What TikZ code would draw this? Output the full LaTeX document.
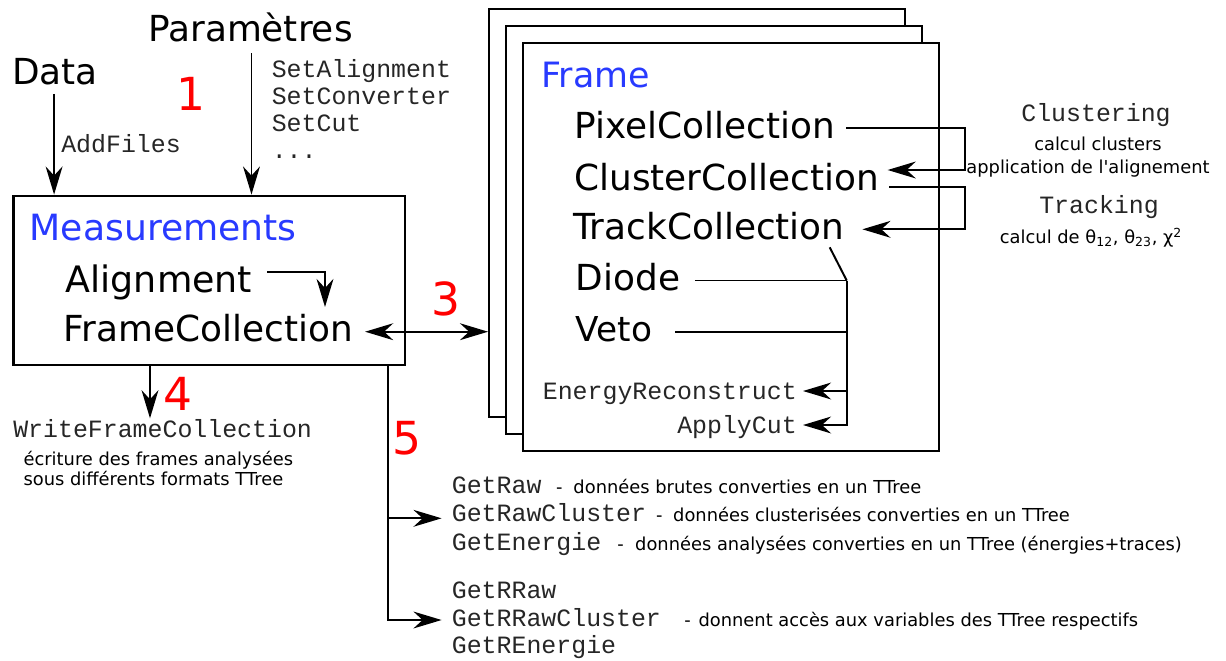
\documentclass[tikz,border=0pt]{standalone}
\usepackage{fontspec}
\setmainfont{DejaVu Sans}
\setmonofont{Liberation Mono}
\usepackage{xcolor}
\usepackage{tikz}
\usetikzlibrary{arrows.meta, positioning, calc}

\definecolor{clsblue}{RGB}{40,58,255}

\begin{document}
\begin{tikzpicture}[
  x=0.25mm, y=-0.25mm,
  box/.style={rectangle, draw, fill=white, line width=1.6pt,
    inner sep=0pt},
  big/.style={font=\fontsize{#1}{#1}\selectfont, inner sep=0pt,
    anchor=base west},
  big/.default=25.5,
  cls/.style={big=#1, text=clsblue},
  cls/.default=25.5,
  meth/.style={font=\ttfamily\fontsize{17.7}{20}\selectfont,
    text=black!85, inner sep=0pt, anchor=base west},
  note/.style={font=\fontsize{12.7}{15}\selectfont, inner sep=0pt,
    anchor=base west},
  num/.style={font=\fontsize{32.4}{34}\selectfont, text=red,
    inner sep=0pt},
  wire/.style={line width=1.4pt},
  arr/.style={-{Stealth[length=20pt, width=12pt, inset=6.5pt]},
    line width=1.4pt},
  dbl/.style={{Stealth[length=20pt, width=12pt, inset=6.5pt]}-{Stealth[length=20pt, width=12pt, inset=6.5pt]},
    line width=1.4pt},
]
\useasboundingbox (0,0) rectangle (1226,660);

\node[big] (data) at (12,84) {Data};
\node[big] (param) at (148,41.7) {Paramètres};
\node[meth] (addfiles) at (61,152) {AddFiles};

\foreach \lbl/\y [count=\i] in {
  SetAlignment/77, SetConverter/104, SetCut/131}{
  \node[meth] (set\i) at (271.5,\y) {\lbl};
}
\node[meth] (setdots) at (271.5,158) {...};

\node[num] (n1) at (191,94) {1};
\node[num] (n2) at (343.5,260) {2};
\node[num] (n3) at (446,298.5) {3};
\node[num] (n4) at (177.5,394) {4};
\node[num] (n5) at (406.7,438) {5};

\node[box, minimum width=97.9mm, minimum height=42.3mm]
      (meas) at (209.2,280.3) {};
\node[cls=25.7] (meastitle) at (29.5,240) {Measurements};
\node[big=25.9] (align) at (65.4,292.7) {Alignment};
\node[big] (framecoll) at (63.5,341.7) {FrameCollection};

\node[box, minimum width=104mm, minimum height=102mm]
      (back) at (697.2,212.8) {};
\node[box, minimum width=104mm, minimum height=102mm]
      (mid) at (714.2,229.8) {};
\node[box, minimum width=104mm, minimum height=102mm]
      (front) at (731.2,246.8) {};

\node[cls=24.8] (frametitle) at (541,87.3) {Frame};
\node[big] (pixel) at (574.5,138.3) {PixelCollection};
\node[big] (cluster) at (574,190.7) {ClusterCollection};
\node[big] (track) at (573,239.5) {TrackCollection};
\node[big] (diode) at (575.5,290) {Diode};
\node[big=24.4] (veto) at (575.4,341.7) {Veto};
\node[meth, anchor=base east] (energy) at (797,399.3) {EnergyReconstruct};
\node[meth, anchor=base east] (applycut) at (797,433.3) {ApplyCut};

\node[meth, anchor=base] (clustering) at (1096,121.7) {Clustering};
\node[note, anchor=base] (clu1) at (1098,150) {calcul clusters};
\node[note, anchor=base] (clu2) at (1088,173.3)
      {application de l\textquotesingle alignement};
\node[meth, anchor=base] (tracking) at (1099,213.5) {Tracking};
\node[note, anchor=base] (trk1) at (1091,243.3)
      {calcul de θ\textsubscript{12}, θ\textsubscript{23}, χ\textsuperscript{2}};

\node[meth] (write) at (13,437.3) {WriteFrameCollection};
\node[note] (write1) at (23.3,465) {écriture des frames analysées};
\node[note] (write2) at (23.3,485) {sous différents formats TTree};

\foreach \lbl/\y [count=\i] in {
  GetRaw/493.3, GetRawCluster/521.7, GetEnergie/550,
  GetRRaw/598, GetRRawCluster/626.7, GetREnergie/653.3}{
  \node[meth] (get\i) at (451.6,\y) {\lbl};
}
\node[note] (desc1) at (555.8,493.3)
      {-\hspace{7.8pt}données brutes converties en un TTree};
\node[note] (desc2) at (655.8,521.7)
      {-\hspace{7.6pt}données clusterisées converties en un TTree};
\node[note] (desc3) at (617.1,550)
      {-\hspace{8.1pt}données analysées converties en un TTree (énergies+traces)};
\node[note] (desc5) at (684.1,626.7)
      {-\hspace{5.5pt}donnent accès aux variables des TTree respectifs};

\draw[arr] ($(data.south)+(-1,9)$) -- ($(data.south |- meas.north)+(-1,0)$);
\draw[arr] ($(param.south)+(1,11)$) -- ($(param.south |- meas.north)+(1,0)$);

\draw[arr] ($(align.base east)+(14.5,-20.7)$) -| ($(framecoll.base west)+(261.5,-34.7)$);
\draw[dbl] ($(framecoll.base east)+(12,-10)$) -- ($(framecoll.base east -| back.west)+(0,-10)$);

\coordinate (busC) at (965.3,0);
\draw[arr] ($(pixel.base east)+(11,-10.6)$) coordinate (p0) -- (p0 -| busC)
  |- ($(cluster.base east)+(8.5,-20.7)$);
\draw[arr] ($(cluster.base east)+(10,-3.4)$) coordinate (p1) -- (p1 -| busC)
  |- ($(track.base east)+(17.7,-10.2)$);

\coordinate (busD) at (846.7,280.5);
\draw[wire] ($(track.base east)+(-15,7.8)$) -- (busD);
\draw[wire] ($(diode.base east)+(14.6,-9.5)$) -- (busD);
\draw[wire] ($(veto.base east)+(23,-10)$) -- ($(veto.base east -| busD)+(0,-10)$);
\draw[arr] (busD) |- ($(applycut.base east)+(6,-8.3)$);
\draw[arr] ($(energy.base east -| busD)+(0,-8.3)$) -- ($(energy.base east)+(6,-8.3)$);

\coordinate (c4) at (150,0);
\coordinate (c5) at (387.7,0);
\draw[arr] (meas.south -| c4) -- ($(write.base west -| c4)+(0,-19)$);
\draw[arr] (meas.south -| c5) |- ($(get5.base west)+(-10,-6.7)$);
\draw[arr] ($(get2.base west -| c5)+(0,-3.4)$) -- ($(get2.base west)+(-10,-3.4)$);

\end{tikzpicture}
\end{document}
